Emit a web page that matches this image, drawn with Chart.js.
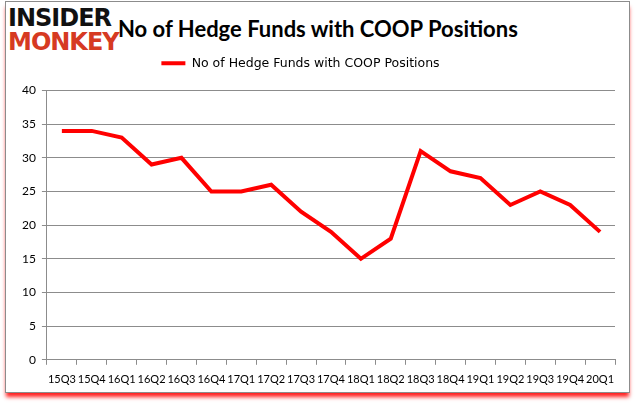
<!DOCTYPE html>
<html><head><meta charset="utf-8">
<script src="https://cdn.jsdelivr.net/npm/chart.js@4/dist/chart.umd.min.js"></script>
<style>
html,body{margin:0;padding:0;background:#fff;width:635px;height:405px;overflow:hidden;}
#frame{position:absolute;left:5px;top:1px;width:623px;height:390px;border:1px solid #8c8c8c;box-shadow:0 5px 4px -1px #ff2020;background:#fff;}
#logo{position:absolute;left:8px;top:6px;font-family:"DejaVu Sans";font-weight:bold;line-height:24px;letter-spacing:-1px;}
#logo .a{color:#111;font-size:24px;}
#logo .b{color:#d63a22;font-size:24px;}
#title{position:absolute;left:118px;top:15px;font-family:"Lato","Open Sans",sans-serif;font-weight:bold;font-size:22px;color:#000;}
#wrap{position:absolute;left:0;top:0;width:635px;height:405px;}
</style></head><body>
<div id="frame"></div>
<div id="logo"><div class="a">INSIDER</div><div class="b">MONKEY</div></div>
<div id="title">No of Hedge Funds with COOP Positions</div>
<div id="wrap"><canvas id="c" width="635" height="405"></canvas></div>
<script>
const categories = ["15Q3","15Q4","16Q1","16Q2","16Q3","16Q4","17Q1","17Q2","17Q3","17Q4","18Q1","18Q2","18Q3","18Q4","19Q1","19Q2","19Q3","19Q4","20Q1"];
const hedgeFunds = [34,34,33,29,30,25,25,26,22,19,15,18,31,28,27,23,25,23,19];
const seriesName = "No of Hedge Funds with COOP Positions";
const yTicks = [0,5,10,15,20,25,30,35,40];

const legendSpacer = { id: 'legendSpacer', beforeInit(chart) {
  const lg = chart.legend;
  const fit = lg.fit;
  lg.fit = function () { fit.bind(lg)(); this.height += 11; };
  const draw = lg.draw;
  lg.draw = function () { const ctx = this.ctx; ctx.save(); ctx.translate(-15, 0); draw.call(lg); ctx.restore(); };
}};

new Chart(document.getElementById('c'), {
  type: 'line',
  data: { labels: categories, datasets: [{
    label: seriesName, data: hedgeFunds, borderColor: '#ff0000', backgroundColor: '#ff0000',
    borderWidth: 4, pointRadius: 0, tension: 0, fill: false
  }]},
  plugins: [legendSpacer],
  options: {
    responsive: false, animation: false, devicePixelRatio: 1,
    layout: { padding: { top: 53, left: 16, right: 20, bottom: 11 } },
    plugins: {
      legend: { display: true, position: 'top',
        labels: { usePointStyle: true, pointStyle: 'line', pointStyleWidth: 24, color: '#000', font: { family: 'DejaVu Sans', size: 12.5 }, padding: 4 } },
      tooltip: { enabled: false }
    },
    scales: {
      x: { offset: true,
        grid: { offset: true, drawOnChartArea: false, color: '#8c8c8c', tickLength: 5 },
        border: { color: '#8c8c8c' },
        ticks: { color: '#000', font: { family: 'Lato', size: 11 }, maxRotation: 0, autoSkip: false, padding: 8 } },
      y: { min: 0, max: 40,
        afterBuildTicks: s => { s.ticks = yTicks.map(v => ({ value: v })); },
        grid: { color: '#8c8c8c', tickLength: 5 },
        border: { color: '#8c8c8c' },
        ticks: { color: '#000', font: { family: 'Lato', size: 12 }, padding: 6 } }
    }
  }
});
</script>
</body></html>
